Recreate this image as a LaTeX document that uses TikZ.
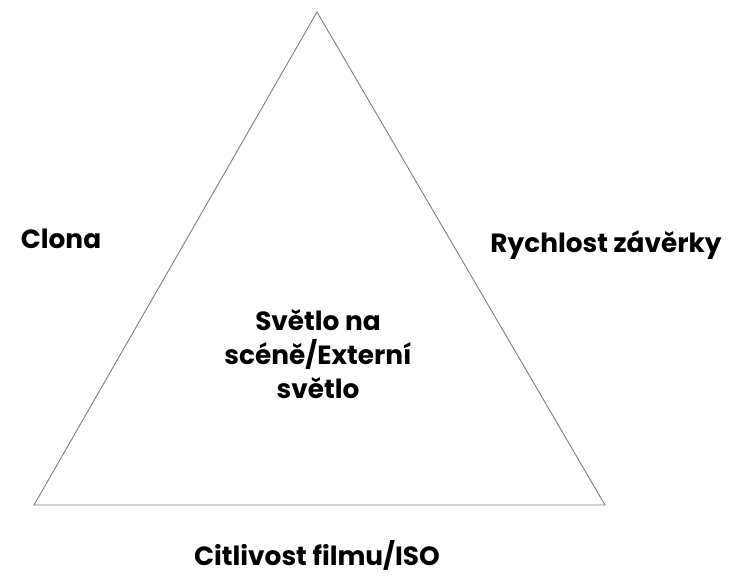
\documentclass[tikz,border=0pt]{standalone}
\usepackage{fontspec}
\setmainfont{Poppins}
\usetikzlibrary{positioning}

\begin{document}
\begin{tikzpicture}[x=0.03cm,y=-0.03cm]
\tikzset{lbl/.style={font=\fontsize{22.5}{29}\selectfont\bfseries, align=center, inner sep=0pt}}
\useasboundingbox (0,0) rectangle (734,578);

\coordinate (t) at (317,12);
\coordinate (l) at (34,505);
\coordinate (r) at (605,505);

\node[lbl] (clona) at (61,239) {Clona};
\node[lbl] (rychlost) at (606,245) {Rychlost závěrky};
\node[lbl] (svetlo) at (318,354) {Světlo na\\scéně/Externí\\světlo};
\node[lbl] (iso) at (317,555) {Citlivost filmu/ISO};

\draw[gray, line width=0.8pt] (t)--(r)--(l)--cycle;
\end{tikzpicture}
\end{document}
